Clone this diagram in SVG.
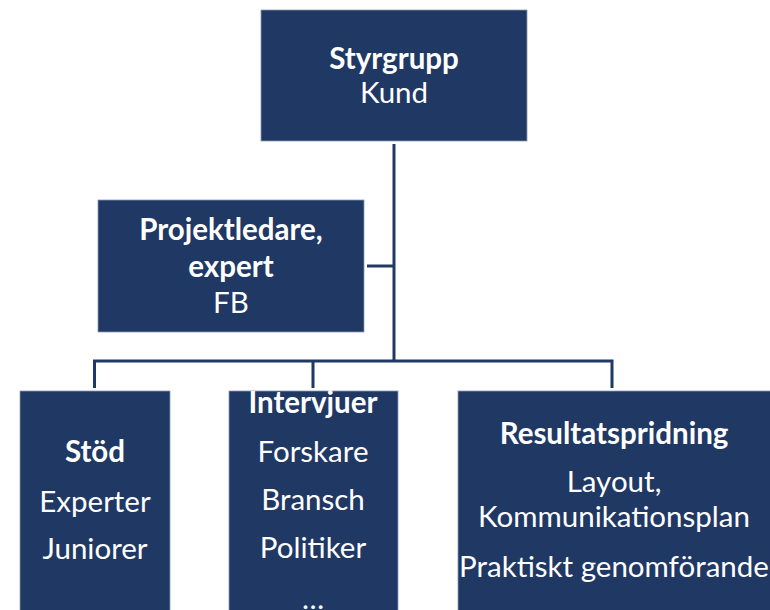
<svg xmlns="http://www.w3.org/2000/svg" width="770" height="610" viewBox="0 0 770 610">
<style>
.box{fill:#203864;stroke:#8a9ab5;stroke-width:0.8}
.t{font-family:Lato,"Open Sans",sans-serif;font-size:29.5px;fill:#ffffff;text-anchor:middle}
.b{font-weight:bold}
.c{fill:none;stroke:#203864;stroke-width:3}
</style>
<rect width="770" height="610" fill="#ffffff"/>
<g id="connectors">
<path class="c" d="M394,144 V361"/>
<path class="c" d="M367,266 H394"/>
<path class="c" d="M94.5,361 H613.5 M94.5,359.5 V388 M313,361 V388 M612,359.5 V388"/>
</g>
<g id="styrgrupp">
<rect class="box" x="261" y="10" width="266" height="131"/>
<text class="t b" x="394" y="69">Styrgrupp</text>
<text class="t" x="394" y="103">Kund</text>
</g>
<g id="projektledare">
<rect class="box" x="98" y="200" width="266" height="132"/>
<text class="t b" x="231" y="240">Projektledare,</text>
<text class="t b" x="231" y="277">expert</text>
<text class="t" x="231" y="313">FB</text>
</g>
<g id="stod">
<rect class="box" x="20" y="391" width="150" height="225"/>
<text class="t b" x="95" y="462">Stöd</text>
<text class="t" x="95" y="512">Experter</text>
<text class="t" x="95" y="559">Juniorer</text>
</g>
<g id="intervjuer">
<rect class="box" x="229" y="391" width="169" height="225"/>
<text class="t b" x="313" y="413">Intervjuer</text>
<text class="t" x="313" y="462">Forskare</text>
<text class="t" x="313" y="510">Bransch</text>
<text class="t" x="313" y="558">Politiker</text>
<text class="t" x="313" y="609">…</text>
</g>
<g id="resultatspridning">
<rect class="box" x="458" y="391" width="320" height="225"/>
<text class="t b" x="614" y="444">Resultatspridning</text>
<text class="t" x="614" y="492">Layout,</text>
<text class="t" x="614" y="527">Kommunikationsplan</text>
<text class="t" x="614" y="577">Praktiskt genomförande</text>
</g>
</svg>
